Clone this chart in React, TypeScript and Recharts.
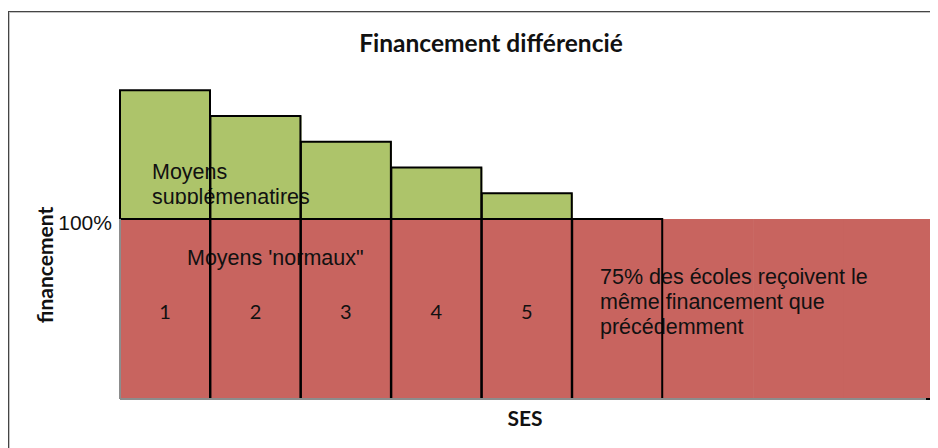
import React from 'react';
import { BarChart, Bar, XAxis, YAxis, LabelList } from 'recharts';

// ---- data ----
const categories = ['1', '2', '3', '4', '5', '6', '7', '8', '9'];
const baseFunding = [100, 100, 100, 100, 100, 100, 100, 100, 100];
const extraFunding = [71.5, 57.2, 42.9, 28.6, 14.3, 0, 0, 0, 0];
const groupLabels = ['1', '2', '3', '4', '5', '', '', '', ''];
const yTicks = [100];
const yDomain: [number, number] = [0, 180];

const data = categories.map((c, i) => ({
  cat: c,
  base: baseFunding[i],
  extra: extraFunding[i],
  label: groupLabels[i],
}));

// ---- layout / style ----
const W = 930;
const H = 440;
const MARGIN = { top: 67, right: 4, bottom: 19, left: 0 };
const RED = '#C8645F';
const GREEN = '#ADC46A';
const OUTLINED = 6;
const SANS = "'Liberation Sans', Arial, sans-serif";
const CAL = "Lato, 'Open Sans', sans-serif";

const fillShape = (color: string) => (props: any) => {
  const { x, y, width, height } = props;
  if (!height || height <= 0 || !width) return <g />;
  return <rect x={x} y={y} width={width + 1} height={height} fill={color} />;
};

const RedEdges = (props: any) => {
  const { x, y, width, height, index } = props;
  if (index >= OUTLINED || !height || height <= 0) return <g />;
  const x2 = x + width;
  const yb = y + height;
  return (
    <g fill="none">
      <path d={`M${x},${y} L${x2},${y} L${x2},${yb}`} stroke="#000" strokeWidth={2} />
      <path
        d={`M${x},${yb} L${x},${y}`}
        stroke={index === 0 ? '#8c8c8c' : '#000'}
        strokeWidth={2}
      />
    </g>
  );
};

const GreenEdges = (props: any) => {
  const { x, y, width, height } = props;
  if (!height || height <= 0) return <g />;
  const x2 = x + width;
  const yb = y + height;
  return (
    <path
      d={`M${x},${yb} L${x},${y} L${x2},${y} L${x2},${yb}`}
      fill="none"
      stroke="#000"
      strokeWidth={2}
    />
  );
};

const NumLabel = (props: any) => {
  const vb = props.viewBox && props.viewBox.width != null ? props.viewBox : props;
  const { x, y, width, height } = vb;
  const txt = props.value;
  if (!txt) return null;
  return (
    <text
      x={x + width / 2}
      y={y + height / 2 + 10}
      textAnchor="middle"
      fontFamily={CAL}
      fontSize={20}
      fill="#111"
    >
      {txt}
    </text>
  );
};

const YTick = (props: any) => {
  const { x, y, payload } = props;
  return (
    <text x={x} y={y + 11} textAnchor="end" fontFamily={SANS} fontSize={21} fill="#111">
      {payload.value}%
    </text>
  );
};

const XLabel = (props: any) => {
  const vb = props.viewBox || { x: 112, y: 391, width: 814, height: 30 };
  const { x, y, width } = vb;
  return (
    <g>
      <text
        x={x + width / 2 - 2}
        y={y + 27}
        textAnchor="middle"
        fontFamily={CAL}
        fontWeight={700}
        fontSize={21}
        fill="#111"
      >
        SES
      </text>
      <path
        d={`M${x + width - 8},${y} H${x + width + 4} M${x + width + 2.5},${y - 6} V${y + 6}`}
        stroke="#000"
        strokeWidth={2}
        fill="none"
      />
    </g>
  );
};

const YLabel = (props: any) => {
  const vb = props.viewBox || { x: 0, y: 67, width: 112, height: 324 };
  const cx = vb.x + 45;
  const cy = vb.y + 190;
  return (
    <text
      x={cx}
      y={cy}
      transform={`rotate(-90, ${cx}, ${cy})`}
      textAnchor="middle"
      fontFamily={CAL}
      fontWeight={700}
      fontSize={21}
      fill="#111"
    >
      financement
    </text>
  );
};

const layer: React.CSSProperties = { position: 'absolute', left: 0, top: 0 };

export default function App() {
  return (
    <div style={{ position: 'relative', width: W, height: H, overflow: 'hidden', background: '#fff' }}>
      {/* outer frame */}
      <div
        style={{
          position: 'absolute',
          left: 0,
          top: 3,
          width: 1400,
          height: 1400,
          borderTop: '1px solid #454545',
          borderLeft: '1px solid #454545',
          boxShadow: 'inset 1px 1px 0 #c4c4c4',
        }}
      />

      {/* fills layer */}
      <div style={layer}>
        <BarChart width={W} height={H} data={data} margin={MARGIN} barCategoryGap={0} barGap={0}>
          <XAxis dataKey="cat" height={30} axisLine={false} tickLine={false} tick={false} />
          <YAxis width={112} domain={yDomain} ticks={yTicks} axisLine={false} tickLine={false} tick={false} />
          <Bar dataKey="base" stackId="s" shape={fillShape(RED)} isAnimationActive={false} />
          <Bar dataKey="extra" stackId="s" shape={fillShape(GREEN)} isAnimationActive={false} />
        </BarChart>
      </div>

      {/* annotation texts */}
      <svg width={W} height={H} style={layer}>
        <defs>
          <clipPath id="suppClip">
            <rect x={0} y={0} width={W} height={196} />
          </clipPath>
        </defs>
        <text x={483} y={44} textAnchor="middle" fontFamily={CAL} fontWeight={700} fontSize={24.5} fill="#111">
          Financement différencié
        </text>
        <g fontFamily={SANS} fontSize={21.5} fill="#111">
          <text x={144} y={171}>Moyens</text>
          <text x={144} y={195.5} clipPath="url(#suppClip)">supplémenatires</text>
          <text x={179} y={257}>Moyens 'normaux"</text>
          <text x={592} y={276}>75% des écoles reçoivent le</text>
          <text x={592} y={301}>même financement que</text>
          <text x={592} y={326}>précédemment</text>
        </g>
      </svg>

      {/* outlines, axes, labels layer */}
      <div style={layer}>
        <BarChart width={W} height={H} data={data} margin={MARGIN} barCategoryGap={0} barGap={0}>
          <XAxis
            dataKey="cat"
            height={30}
            axisLine={{ stroke: '#8c8c8c', strokeWidth: 2 }}
            tickLine={false}
            tick={false}
            label={(p: any) => <XLabel {...p} />}
          />
          <YAxis
            width={112}
            domain={yDomain}
            ticks={yTicks}
            axisLine={false}
            tickLine={false}
            tick={<YTick />}
            label={(p: any) => <YLabel {...p} />}
          />
          <Bar dataKey="base" stackId="s" shape={RedEdges} isAnimationActive={false}>
            <LabelList dataKey="label" content={<NumLabel />} />
          </Bar>
          <Bar dataKey="extra" stackId="s" shape={GreenEdges} isAnimationActive={false} />
        </BarChart>
      </div>
    </div>
  );
}
